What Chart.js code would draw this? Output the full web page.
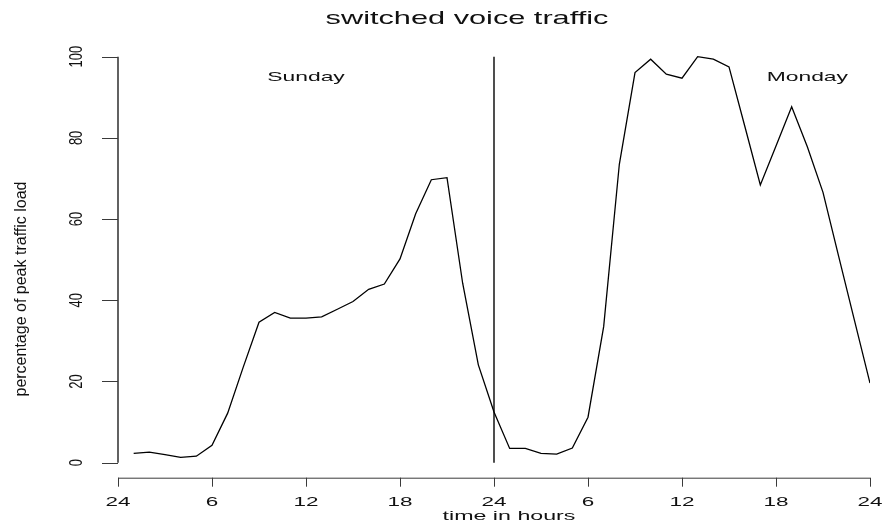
<!DOCTYPE html>
<html>
<head>
<meta charset="utf-8">
<title>switched voice traffic</title>
<script src="https://cdn.jsdelivr.net/npm/chart.js@4.4.1/dist/chart.umd.min.js"></script>
<style>
  html, body { margin: 0; padding: 0; background: #ffffff; }
  #wrap { width: 886px; height: 525px; }
</style>
</head>
<body>
<div id="wrap"><canvas id="c" width="886" height="525"></canvas></div>
<script>
// Hours since midnight Sunday, one reading per hour
const hours = [1,2,3,4,5,6,7,8,9,10,11,12,13,14,15,16,17,18,19,20,21,22,23,24,
               25,26,27,28,29,30,31,32,33,34,35,36,37,38,39,40,41,42,43,44,45,46,47,48];
// Percentage of peak traffic load at each hour
const load = [2.3,2.6,2.0,1.3,1.6,4.3,12.2,23.6,34.6,37.0,35.6,35.6,35.9,37.8,39.7,42.7,44.0,50.2,61.3,69.7,70.2,44.2,24.1,12.5,
              3.5,3.5,2.3,2.1,3.6,11.2,33.5,73.5,96.1,99.4,95.7,94.7,100,99.4,97.5,83.0,68.4,78.0,87.7,77.8,66.6,50.8,35.2,19.6];
// Midnight separator between the two days
const dayBreak = 24;
const dayBreakSpan = [0, 100];
// Axis ticks
const xTickValues = [0,6,12,18,24,30,36,42,48];
const xTickLabels = ['24','6','12','18','24','6','12','18','24'];
const yTickValues = [0,20,40,60,80,100];
const yTickLabels = ['0','20','40','60','80','100'];
const dayNames = ['Sunday','Monday'];
const dayNameAt = [12, 44];
const dayNameLevel = 94;

const FONT = '"Liberation Sans", Arial, Helvetica, sans-serif';
const INK = '#111111';
const AXIS = '#3a3a3a';

// Text drawn with separate scaling along and across the writing direction
function drawText(ctx, str, x, y, size, along, across, angle, align, baseline) {
  ctx.save();
  ctx.translate(x, y);
  ctx.rotate(angle);
  ctx.scale(along, across);
  ctx.font = size + 'px ' + FONT;
  ctx.fillStyle = INK;
  ctx.textAlign = align;
  ctx.textBaseline = baseline;
  ctx.fillText(str, 0, 0);
  ctx.restore();
}

const rAxes = {
  id: 'rAxes',
  afterDraw(chart) {
    const ctx = chart.ctx;
    const xs = chart.scales.x, ys = chart.scales.y;
    const yBase = chart.chartArea.bottom;
    const xLeft = chart.chartArea.left;
    ctx.save();
    ctx.strokeStyle = AXIS;
    ctx.lineWidth = 1;
    // x axis: line from first to last tick, ticks pointing down
    const x0 = xs.getPixelForValue(xTickValues[0]);
    const x1 = xs.getPixelForValue(xTickValues[xTickValues.length - 1]);
    ctx.beginPath();
    ctx.moveTo(x0, yBase + 0.5); ctx.lineTo(x1, yBase + 0.5);
    xTickValues.forEach(v => {
      const px = Math.round(xs.getPixelForValue(v)) + 0.5;
      ctx.moveTo(px, yBase); ctx.lineTo(px, yBase + 9);
    });
    ctx.stroke();
    xTickValues.forEach((v, i) => {
      drawText(ctx, xTickLabels[i], xs.getPixelForValue(v), yBase + 28.5, 13.3, 1.69, 1, 0, 'center', 'alphabetic');
    });
    // y axis: line from first to last tick, ticks pointing left
    const ya = ys.getPixelForValue(yTickValues[0]);
    const yb = ys.getPixelForValue(yTickValues[yTickValues.length - 1]);
    ctx.beginPath();
    ctx.lineWidth = 1.6;
    ctx.moveTo(xLeft, ya); ctx.lineTo(xLeft, yb);
    ctx.stroke();
    ctx.beginPath();
    ctx.lineWidth = 1;
    yTickValues.forEach(v => {
      const py = Math.round(ys.getPixelForValue(v)) + 0.5;
      ctx.moveTo(xLeft, py); ctx.lineTo(xLeft - 16, py);
    });
    ctx.stroke();
    yTickValues.forEach((v, i) => {
      drawText(ctx, yTickLabels[i], xLeft - 36.5, ys.getPixelForValue(v), 18.5, 0.7, 1, -Math.PI / 2, 'center', 'alphabetic');
    });
    // axis titles
    drawText(ctx, 'time in hours', 509, 519.5, 13.5, 1.72, 1, 0, 'center', 'alphabetic');
    drawText(ctx, 'percentage of peak traffic load', 26, 289, 16.5, 0.97, 1, -Math.PI / 2, 'center', 'alphabetic');
    // day names
    dayNames.forEach((name, i) => {
      drawText(ctx, name, xs.getPixelForValue(dayNameAt[i]), ys.getPixelForValue(dayNameLevel), 13.3, 1.72, 1, 0, 'center', 'alphabetic');
    });
    // main title
    drawText(ctx, 'switched voice traffic', 467, 23.5, 18.5, 1.66, 1, 0, 'center', 'alphabetic');
    ctx.restore();
  }
};

new Chart(document.getElementById('c'), {
  type: 'line',
  data: {
    datasets: [
      {
        data: hours.map((h, i) => ({ x: h, y: load[i] })),
        borderColor: '#000000',
        borderWidth: 1.3,
        pointRadius: 0,
        tension: 0,
        fill: false
      },
      {
        data: dayBreakSpan.map(v => ({ x: dayBreak, y: v })),
        borderColor: '#222222',
        borderWidth: 1.6,
        pointRadius: 0,
        tension: 0,
        fill: false
      }
    ]
  },
  options: {
    responsive: false,
    animation: false,
    devicePixelRatio: 1,
    layout: { padding: { left: 118, right: 16, top: 41.7, bottom: 47.3 } },
    plugins: { legend: { display: false }, title: { display: false }, tooltip: { enabled: false } },
    scales: {
      x: { type: 'linear', min: 0, max: 48, display: false },
      y: { type: 'linear', min: -3.7, max: 103.7, display: false }
    }
  },
  plugins: [rAxes]
});
</script>
</body>
</html>
